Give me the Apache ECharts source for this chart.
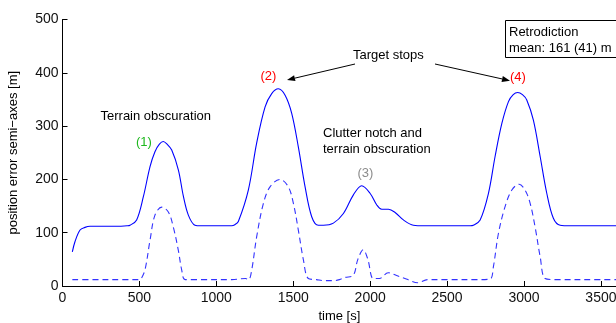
<!DOCTYPE html>
<html>
<head>
<meta charset="utf-8">
<script src="https://cdn.jsdelivr.net/npm/echarts@6/dist/echarts.min.js"></script>
<style>
html,body{margin:0;padding:0;background:#fff;}
#chart{width:616px;height:323px;}
</style>
</head>
<body>
<div id="chart"></div>
<script>
// Data
var solidTime = [64, 81, 114, 146, 179, 250, 350, 420, 439, 482, 526, 569, 601, 630, 655, 680, 710, 753, 786, 818, 861, 900, 1000, 1100, 1120, 1143, 1208, 1262, 1317, 1360, 1403, 1447, 1490, 1533, 1577, 1620, 1663, 1696, 1761, 1826, 1891, 1945, 1999, 2043, 2075, 2119, 2162, 2216, 2281, 2350, 2500, 2650, 2671, 2715, 2769, 2812, 2856, 2899, 2930, 2959, 2990, 3018, 3061, 3105, 3148, 3191, 3235, 3300, 3500, 3800];
var solidValue = [64, 83, 105, 110, 112, 112, 112, 113, 114, 124, 168, 224, 252, 266, 271, 266, 255, 218, 168, 133, 114, 113, 113, 113, 115, 121, 180, 268, 336, 361, 370, 358, 324, 261, 186, 130, 114, 114, 118, 136, 171, 188, 174, 152, 144, 144, 138, 124, 114, 113, 113, 113, 114, 124, 174, 243, 305, 346, 359, 363, 359, 349, 311, 243, 174, 127, 114, 113, 113, 113];

var dashTime = [64, 200, 400, 500, 510, 536, 569, 601, 645, 688, 720, 753, 775, 797, 900, 1100, 1190, 1210, 1230, 1262, 1306, 1349, 1414, 1468, 1501, 1533, 1566, 1598, 1650, 1700, 1760, 1800, 1837, 1890, 1920, 1955, 1985, 2020, 2060, 2117, 2168, 2245, 2309, 2372, 2500, 2700, 2780, 2801, 2834, 2877, 2921, 2968, 3007, 3040, 3072, 3105, 3137, 3200, 3500, 3800];
var dashValue = [12, 12, 12, 12, 13, 30, 86, 133, 148, 139, 111, 67, 30, 12, 12, 12, 14, 12, 30, 92, 155, 186, 200, 186, 155, 105, 49, 14, 12, 10, 10, 12, 16, 20, 50, 68, 50, 14, 14, 25, 20, 12, 6, 12, 12, 12, 13, 36, 99, 149, 180, 191, 180, 155, 111, 55, 14, 12, 12, 12];

var xTicks = {min: 0, max: 3600, interval: 500};
var yTicks = {min: 0, max: 500, interval: 100};

function pairs(t, v) { return t.map(function (x, i) { return [x, v[i]]; }); }

var FONT = "'Liberation Sans', Arial, Helvetica, sans-serif";
var chart = echarts.init(document.getElementById('chart'), null, {renderer: 'canvas'});

function txt(x, y, s, color, align) {
  return {type: 'text', x: x, y: y, silent: true,
    style: {text: s, fill: color || '#000', font: '13px ' + FONT, textAlign: align || 'left', textVerticalAlign: 'middle'}};
}
function arrow(x1, y1, x2, y2) {
  var dx = x2 - x1, dy = y2 - y1, L = Math.sqrt(dx * dx + dy * dy);
  var ux = dx / L, uy = dy / L, h = 8, w = 3;
  var bx = x2 - h * ux, by = y2 - h * uy;
  return [
    {type: 'line', shape: {x1: x1, y1: y1, x2: bx, y2: by}, style: {stroke: '#000', lineWidth: 1}, silent: true},
    {type: 'polygon', shape: {points: [[x2, y2], [bx - w * uy, by + w * ux], [bx + w * uy, by - w * ux]]}, style: {fill: '#000'}, silent: true}
  ];
}

var graphics = [
  txt(100.5, 116.5, 'Terrain obscuration'),
  txt(136, 142, '(1)', '#1fb81f'),
  txt(260.5, 76, '(2)', '#ff0000'),
  txt(353, 55, 'Target stops'),
  txt(323, 133.5, 'Clutter notch and'),
  txt(323, 149.5, 'terrain obscuration'),
  txt(357.5, 173, '(3)', '#8c8c8c'),
  txt(510, 77, '(4)', '#ff0000'),
  {type: 'rect', shape: {x: 505.5, y: 20.5, width: 200, height: 37}, style: {fill: '#fff', stroke: '#000', lineWidth: 1}, silent: true},
  txt(509, 32, 'Retrodiction'),
  txt(509, 48.5, 'mean: 161 (41) m')
].concat(arrow(355, 64, 287, 80)).concat(arrow(435, 64, 510, 80.7));

var axisText = {color: '#111', fontFamily: FONT, fontSize: 14, formatter: function (v) { return String(v); }};

chart.setOption({
  animation: false,
  backgroundColor: '#fff',
  grid: {left: 62.5, top: 19.5, width: 553.8, height: 266.5, containLabel: false, outerBoundsMode: 'none'},
  xAxis: {
    type: 'value', min: xTicks.min, max: xTicks.max, interval: xTicks.interval,
    name: 'time [s]', nameLocation: 'middle', nameGap: 24,
    nameTextStyle: {color: '#000', fontFamily: FONT, fontSize: 13},
    axisLine: {lineStyle: {color: '#000', width: 1}},
    axisTick: {inside: true, length: 5, lineStyle: {color: '#000'}},
    axisLabel: Object.assign({margin: 5, showMaxLabel: false}, axisText),
    splitLine: {show: false}
  },
  yAxis: {
    type: 'value', min: yTicks.min, max: yTicks.max, interval: yTicks.interval,
    name: 'position error semi\u2212axes [m]', nameLocation: 'middle', nameGap: 43, nameRotate: 90,
    nameTextStyle: {color: '#000', fontFamily: FONT, fontSize: 13},
    axisLine: {show: true, lineStyle: {color: '#000', width: 1}},
    axisTick: {show: true, inside: true, length: 5, lineStyle: {color: '#000'}},
    axisLabel: Object.assign({margin: 4}, axisText),
    splitLine: {show: false}
  },
  series: [
    {type: 'line', data: pairs(solidTime, solidValue), smooth: 0.35, showSymbol: false,
     lineStyle: {color: '#0000ff', width: 1.1}, silent: true},
    {type: 'line', data: pairs(dashTime, dashValue), smooth: 0.35, showSymbol: false,
     lineStyle: {color: '#3333ff', width: 1.1, type: [6, 4]}, silent: true}
  ],
  graphic: graphics
});
</script>
</body>
</html>
